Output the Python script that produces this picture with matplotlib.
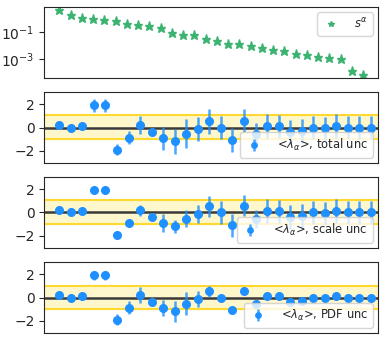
import numpy as np
import matplotlib
matplotlib.use("Agg")
import matplotlib.pyplot as plt
import seaborn as sns

sns.set_style("ticks")
plt.rcParams['font.family'] = ['DejaVu Sans']

# eigenvalues s^alpha
s_alpha = [3.8, 1.6, 1.0, 0.8, 0.69, 0.59, 0.35, 0.29, 0.25, 0.18,
           0.079, 0.063, 0.056, 0.032, 0.020, 0.014, 0.014, 0.010, 0.0069, 0.0049,
           0.0041, 0.0026, 0.0019, 0.0016, 0.0013, 0.00105, 0.000144, 0.0000725]

# central values <lambda_alpha>
lam = [0.23, 0.0, 0.09, 1.91, 1.91, -1.91, -0.87, 0.2, -0.41, -0.93,
       -1.19, -0.52, -0.12, 0.52, 0.0, -1.1, 0.6, -0.55, 0.17, 0.12,
       -0.35, -0.32, 0.0, -0.06, 0.09, 0.0, 0.0, 0.0]

err_total = [0.1, 0.05, 0.05, 0.55, 0.55, 0.5, 0.6, 0.78, 0.2, 1.0,
             1.07, 1.23, 1.06, 1.07, 0.97, 1.04, 0.99, 0.9, 1.04, 1.0,
             1.04, 1.04, 0.97, 1.0, 1.04, 0.97, 0.97, 0.97]
err_scale = [0.02, 0.02, 0.02, 0.05, 0.05, 0.05, 0.05, 0.48, 0.05, 0.78,
             0.55, 0.7, 0.78, 0.9, 0.97, 0.98, 0.88, 0.8, 1.04, 1.0,
             1.04, 1.04, 0.97, 1.0, 1.04, 0.97, 0.97, 0.97]
err_pdf = [0.05, 0.03, 0.03, 0.4, 0.4, 0.45, 0.6, 0.67, 0.1, 0.7,
           0.93, 1.03, 0.7, 0.5, 0.05, 0.05, 0.05, 0.05, 0.03, 0.03,
           0.03, 0.03, 0.02, 0.02, 0.02, 0.02, 0.02, 0.02]

labels = ["total unc", "scale unc", "PDF unc"]
errs = [err_total, err_scale, err_pdf]
band_lo = [-1.0, -1.0, -1.0]
band_hi = [1.1, 1.1, 1.0]

W, H = 385, 346
fig = plt.figure(figsize=(W / 100, H / 100), dpi=100)

left = 44.3 / W
width = (378.3 - 44.3) / W
tops = [6.7, 91.7, 176.7, 261.7]
hgt = 71.6

def mkax(top):
    return fig.add_axes([left, 1 - (top + hgt) / H, width, hgt / H])

x = np.arange(len(s_alpha))

ax0 = mkax(tops[0])
ax0.plot(x, s_alpha, '*', color='mediumseagreen', markersize=6.5, label=r'$s^{\alpha}$')
ax0.set_yscale('log')
ax0.set_xticks([])
ax0.set_yticks([1e-1, 1e-3])
ax0.minorticks_off()
ax0.legend(loc='upper right', markerscale=0.6, handlelength=1.6, handletextpad=1.2,
           fontsize=8.3)

for i in range(3):
    ax = mkax(tops[i + 1])
    ax.axhspan(band_lo[i], band_hi[i], color='#fff7cc', zorder=0)
    ax.axhline(band_lo[i], color='#ffd92f', lw=1.5, zorder=1)
    ax.axhline(band_hi[i], color='#ffd92f', lw=1.5, zorder=1)
    ax.axhline(0, color='#3a3a3a', lw=1.8, zorder=2)
    ax.errorbar(x, lam, yerr=errs[i], fmt='o', color='dodgerblue',
                ecolor=(0.118, 0.565, 1.0, 0.8),
                elinewidth=1.8, markersize=5.5, zorder=3,
                label=r'<$\lambda_{\alpha}$>, ' + labels[i])
    ax.set_xlim(-1.3, 27.64)
    ax.set_ylim(-3.1, 3.1)
    ax.set_xticks([])
    ax.set_yticks([-2, 0, 2])
    ax.legend(loc='lower right', markerscale=0.7, handlelength=1.6, handletextpad=1.2,
              fontsize=8.3)

fig.savefig('out.png', dpi=100)
